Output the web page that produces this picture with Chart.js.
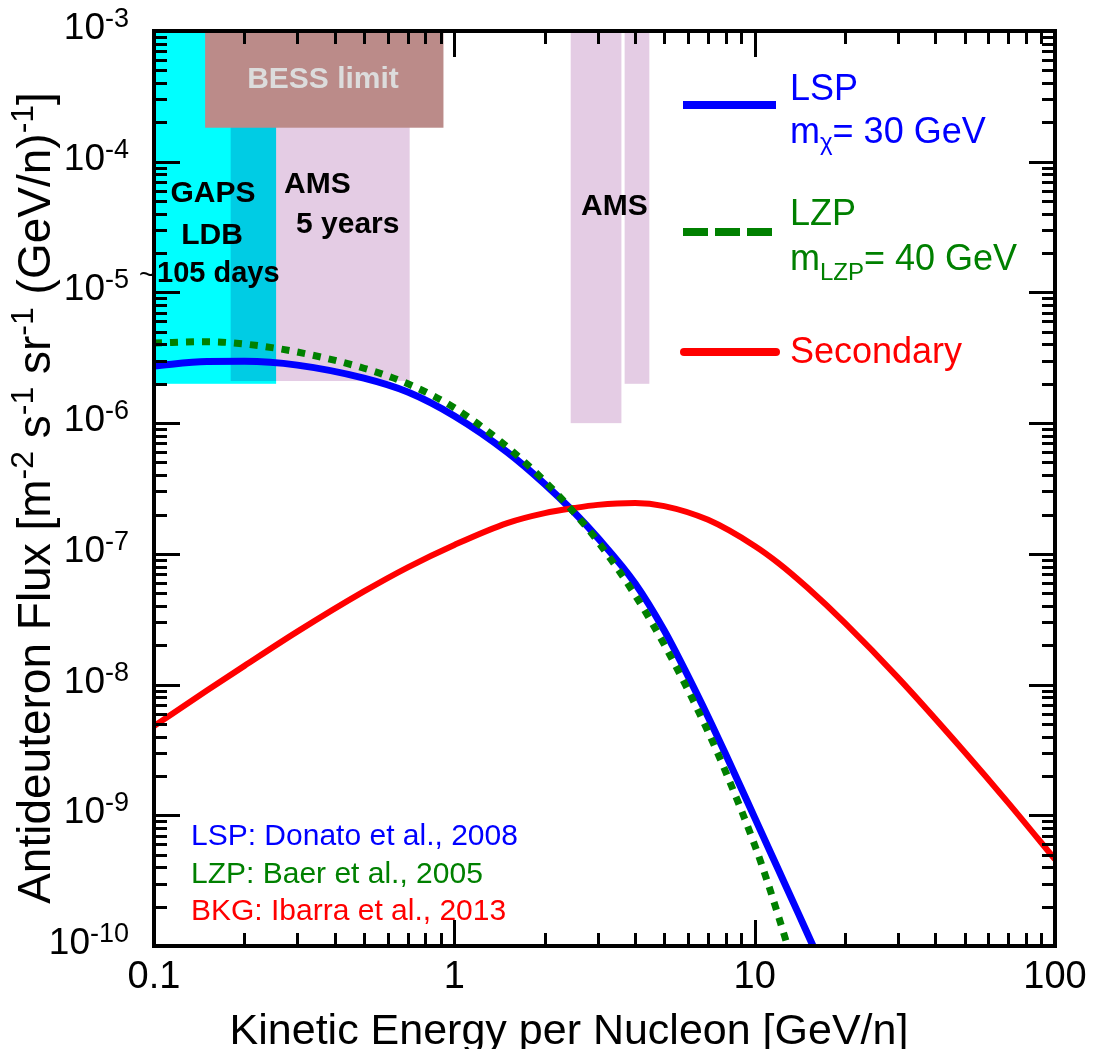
<!DOCTYPE html>
<html><head><meta charset="utf-8">
<script src="https://cdn.jsdelivr.net/npm/chart.js@4.4.1/dist/chart.umd.min.js"></script>
<style>html,body{margin:0;padding:0;background:#fff;overflow:hidden}canvas{display:block}</style>
</head><body>
<canvas id="c" width="1097" height="1049"></canvas>
<script>
// ---- data ----
const lspEnergy = [0.1, 0.15, 0.2, 0.3, 0.5, 0.7, 1, 1.5, 2, 2.5, 3, 4, 5, 6, 7, 8, 10, 12, 14, 15.5, 17];
const lspFlux   = [2.74e-6, 2.96e-6, 2.97e-6, 2.78e-6, 2.21e-6, 1.73e-6, 1.135e-6, 6.0e-7, 3.42e-7, 2.09e-7, 1.33e-7, 5.93e-8, 2.59e-8, 1.16e-8, 5.65e-9, 2.94e-9, 9.6e-10, 3.83e-10, 1.76e-10, 1.05e-10, 6.6e-11];

const lzpEnergy = [0.1, 0.15, 0.2, 0.3, 0.5, 0.7, 1, 1.5, 2, 2.5, 3, 4, 5, 6, 7, 8, 10, 11, 12, 12.8, 13.5];
const lzpFlux   = [4.1e-6, 4.2e-6, 4.03e-6, 3.5e-6, 2.63e-6, 2.0e-6, 1.31e-6, 6.58e-7, 3.59e-7, 2.08e-7, 1.25e-7, 4.83e-8, 2.02e-8, 9.08e-9, 4.34e-9, 2.16e-9, 5.93e-10, 3.16e-10, 1.69e-10, 1.04e-10, 6.8e-11];

const bkgEnergy = [0.1, 0.15, 0.2, 0.3, 0.5, 0.7, 1, 1.5, 2, 2.5, 3, 4, 5, 7, 10, 12, 15, 20, 30, 50, 70, 100];
const bkgFlux   = [4.82e-9, 9.0e-9, 1.39e-8, 2.54e-8, 5.16e-8, 7.89e-8, 1.17e-7, 1.72e-7, 2.05e-7, 2.24e-7, 2.37e-7, 2.45e-7, 2.32e-7, 1.82e-7, 1.15e-7, 8.5e-8, 5.5e-8, 2.95e-8, 1.13e-8, 3.05e-9, 1.24e-9, 4.6e-10];

// sensitivity / limit regions (energy ranges, lower flux edge; all reach the top of the plot)
const fluxTop = 1e-3;
const gapsEnergy = [0.1, 0.255];
const gapsFluxMin = 2.0e-6;
const amsEmin = [0.18, 2.44, 3.69];
const amsEmax = [0.71, 3.60, 4.46];
const amsFluxMin = [2.1e-6, 1.0e-6, 2.0e-6];
const bessEnergy = [0.148, 0.92];
const bessFluxMin = 1.82e-4;

// axis ticks
const xTickValues = [0.1, 1, 10, 100];
const xTickLabels = ['0.1', '1', '10', '100'];
const yTickExponents = [-3, -4, -5, -6, -7, -8, -9, -10];

const FONT = '"Liberation Sans", Arial, Helvetica, sans-serif';
const BLUE = '#0000ff', GREEN = '#008000', RED = '#ff0000';

function pts(xs, ys) { return xs.map((v, i) => ({x: v, y: ys[i]})); }

// draw a sequence of [text, size, dy, bold] runs starting at x, baseline y
function runs(ctx, parts, x, y, color) {
  ctx.fillStyle = color;
  ctx.textAlign = 'left';
  ctx.textBaseline = 'alphabetic';
  let cx = x;
  for (const [t, size, dy, bold] of parts) {
    ctx.font = (bold ? 'bold ' : '') + size + 'px ' + FONT;
    ctx.fillText(t, cx, y + dy);
    cx += ctx.measureText(t).width;
  }
  return cx - x;
}
function runsWidth(ctx, parts) {
  let w = 0;
  for (const [t, size, dy, bold] of parts) {
    ctx.font = (bold ? 'bold ' : '') + size + 'px ' + FONT;
    w += ctx.measureText(t).width;
  }
  return w;
}

const decor = {
  id: 'decor',
  beforeDatasetsDraw(chart) {
    const {ctx, scales: {x, y}} = chart;
    const rect = (e0, e1, f0, f1) => {
      const x0 = x.getPixelForValue(e0), x1 = x.getPixelForValue(e1);
      const y0 = y.getPixelForValue(f1), y1 = y.getPixelForValue(f0);
      ctx.fillRect(x0, y0, x1 - x0, y1 - y0);
    };
    ctx.save();
    ctx.fillStyle = '#00ffff';
    rect(gapsEnergy[0], gapsEnergy[1], gapsFluxMin, fluxTop);
    ctx.globalCompositeOperation = 'multiply';
    ctx.fillStyle = '#e4cce4';
    for (let i = 0; i < amsEmin.length; i++) rect(amsEmin[i], amsEmax[i], amsFluxMin[i], fluxTop);
    ctx.globalCompositeOperation = 'source-over';
    ctx.fillStyle = '#bb8b89';
    rect(bessEnergy[0], bessEnergy[1], bessFluxMin, fluxTop);

    // region labels
    ctx.textBaseline = 'alphabetic';
    ctx.textAlign = 'center';
    ctx.font = 'bold 30px ' + FONT;
    ctx.fillStyle = '#dcdcdc';
    ctx.fillText('BESS limit', 323, 88);
    ctx.fillStyle = '#000';
    ctx.fillText('GAPS', 213, 202);
    ctx.fillText('LDB', 212, 244);
    ctx.textAlign = 'left';
    ctx.font = 'bold 29px ' + FONT;
    ctx.fillText('105 days', 157, 282);
    ctx.font = '28px ' + FONT;
    ctx.fillText('~', 139, 284);
    ctx.font = 'bold 30px ' + FONT;
    ctx.fillText('AMS', 284, 193);
    ctx.fillText('5 years', 296, 233);
    ctx.fillText('AMS', 581, 215);
    ctx.restore();
  },
  afterDatasetsDraw(chart) {
    const {ctx} = chart;
    ctx.save();
    // legend
    ctx.lineCap = 'butt';
    ctx.lineWidth = 8;
    ctx.strokeStyle = BLUE;
    ctx.beginPath(); ctx.moveTo(683, 105); ctx.lineTo(776, 105); ctx.stroke();
    ctx.strokeStyle = GREEN;
    ctx.setLineDash([25, 7]);
    ctx.beginPath(); ctx.moveTo(683, 232); ctx.lineTo(772, 232); ctx.stroke();
    ctx.setLineDash([]);
    ctx.strokeStyle = RED;
    ctx.lineCap = 'round';
    ctx.beginPath(); ctx.moveTo(684, 352); ctx.lineTo(776, 352); ctx.stroke();

    runs(ctx, [['LSP', 36, 0]], 790, 100, BLUE);
    runs(ctx, [['m', 36, 0], ['\u03c7', 24, 7], ['= 30 GeV', 36, 0]], 790, 143, BLUE);
    runs(ctx, [['LZP', 36, 0]], 790, 225, GREEN);
    runs(ctx, [['m', 36, 0], ['LZP', 24, 10], ['= 40 GeV', 36, 0]], 790, 270, GREEN);
    runs(ctx, [['Secondary', 36, 0]], 790, 363, RED);

    // references
    runs(ctx, [['LSP: Donato et al., 2008', 30, 0]], 191, 845, BLUE);
    runs(ctx, [['LZP: Baer et al., 2005', 30, 0]], 191, 883, GREEN);
    runs(ctx, [['BKG: Ibarra et al., 2013', 30, 0]], 191, 920, RED);
    ctx.restore();
  },
  afterDraw(chart) {
    const {ctx, chartArea: a, scales: {x, y}} = chart;
    ctx.save();
    ctx.strokeStyle = '#000';
    // ticks (inward, all four sides)
    ctx.lineWidth = 3;
    ctx.lineCap = 'butt';
    ctx.beginPath();
    for (let d = -1; d <= 2; d++) {
      for (let m = 1; m <= 9; m++) {
        const v = m * Math.pow(10, d);
        if (v > 100 + 1e-9) break;
        const px = Math.round(x.getPixelForValue(v)) + 0.5;
        const len = m === 1 ? 26 : 13;
        ctx.moveTo(px, a.bottom); ctx.lineTo(px, a.bottom - len);
        ctx.moveTo(px, a.top); ctx.lineTo(px, a.top + len);
      }
    }
    for (let d = -10; d <= -3; d++) {
      for (let m = 1; m <= 9; m++) {
        const v = m * Math.pow(10, d);
        if (v > 1e-3 * 1.0001) break;
        const py = Math.round(y.getPixelForValue(v)) + 0.5;
        const len = m === 1 ? 26 : 13;
        ctx.moveTo(a.left, py); ctx.lineTo(a.left + len, py);
        ctx.moveTo(a.right, py); ctx.lineTo(a.right - len, py);
      }
    }
    ctx.stroke();
    // frame
    ctx.lineWidth = 4;
    ctx.strokeRect(a.left, a.top, a.right - a.left, a.bottom - a.top);

    // x tick labels
    ctx.fillStyle = '#000';
    ctx.font = '38px ' + FONT;
    ctx.textAlign = 'center';
    ctx.textBaseline = 'alphabetic';
    xTickValues.forEach((v, i) => ctx.fillText(xTickLabels[i], x.getPixelForValue(v), 988));

    // y tick labels 10^n
    yTickExponents.forEach(e => {
      const py = y.getPixelForValue(Math.pow(10, e));
      const parts = [['10', 37, 8], [String(e), 27, -4]];
      const w = runsWidth(ctx, parts);
      runs(ctx, parts, 129 - w, py, '#000');
    });

    // x title
    ctx.fillStyle = '#000';
    ctx.font = '43px ' + FONT;
    ctx.textAlign = 'center';
    ctx.fillText('Kinetic Energy per Nucleon [GeV/n]', 569, 1044);

    // y title (rotated, with superscripts)
    const yt = [['Antideuteron Flux [m', 46, 0], ['-2', 32, -17], [' s', 46, 0], ['-1', 32, -17],
                [' sr', 46, 0], ['-1', 32, -17], [' (GeV/n)', 46, 0], ['-1', 32, -17], [']', 46, 0]];
    const tw = runsWidth(ctx, yt);
    ctx.translate(50, 498);
    ctx.rotate(-Math.PI / 2);
    runs(ctx, yt, -tw / 2, 0, '#000');
    ctx.restore();
  }
};

new Chart(document.getElementById('c').getContext('2d'), {
  type: 'line',
  data: {
    datasets: [
      {label: 'LZP m_LZP = 40 GeV', data: pts(lzpEnergy, lzpFlux), borderColor: GREEN, borderWidth: 7,
       borderDash: [8, 8], borderCapStyle: 'butt', pointRadius: 0, cubicInterpolationMode: 'monotone', clip: 0, fill: false},
      {label: 'Secondary', data: pts(bkgEnergy, bkgFlux), borderColor: RED, borderWidth: 6,
       pointRadius: 0, cubicInterpolationMode: 'monotone', clip: 0, fill: false},
      {label: 'LSP m_chi = 30 GeV', data: pts(lspEnergy, lspFlux), borderColor: BLUE, borderWidth: 7,
       pointRadius: 0, cubicInterpolationMode: 'monotone', clip: 0, fill: false}
    ]
  },
  options: {
    responsive: false,
    animation: false,
    devicePixelRatio: 1,
    layout: {padding: {left: 154, right: 42, top: 31, bottom: 103}},
    scales: {
      x: {type: 'logarithmic', min: 0.1, max: 100, display: false},
      y: {type: 'logarithmic', min: 1e-10, max: 1e-3, display: false}
    },
    plugins: {legend: {display: false}, tooltip: {enabled: false}}
  },
  plugins: [decor]
});
</script>
</body></html>
